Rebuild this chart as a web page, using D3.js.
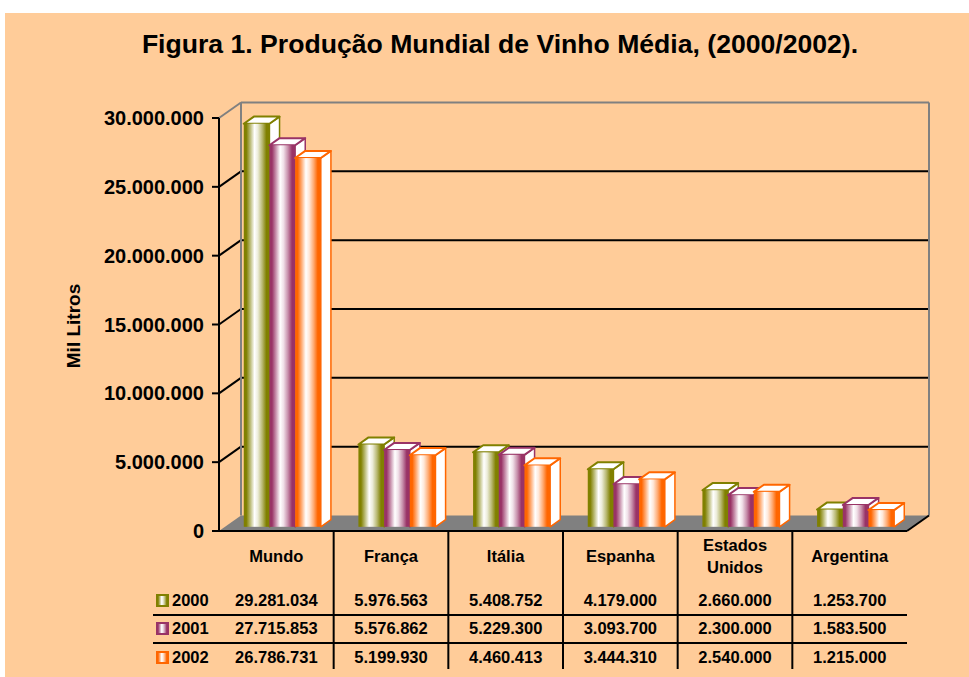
<!DOCTYPE html>
<html>
<head>
<meta charset="utf-8">
<script src="https://cdn.jsdelivr.net/npm/d3@7"></script>
<style>
  html, body { margin: 0; padding: 0; background: #ffffff; }
  svg { display: block; }
  text { font-family: "Liberation Sans", Arial, sans-serif; font-weight: bold; fill: #000; }
</style>
</head>
<body>
<svg id="chart" width="969" height="677"></svg>
<script>
// ---------------- data ----------------
const title = "Figura 1. Produção Mundial de Vinho Média, (2000/2002).";
const yAxisTitle = "Mil Litros";
const categories = ["Mundo", "França", "Itália", "Espanha", "Estados Unidos", "Argentina"];
const categoryLines = [["Mundo"], ["França"], ["Itália"], ["Espanha"], ["Estados", "Unidos"], ["Argentina"]];
const years = ["2000", "2001", "2002"];
const values2000 = [29281034, 5976563, 5408752, 4179000, 2660000, 1253700];
const values2001 = [27715853, 5576862, 5229300, 3093700, 2300000, 1583500];
const values2002 = [26786731, 5199930, 4460413, 3444310, 2540000, 1215000];
const seriesValues = [values2000, values2001, values2002];
const seriesColors = ["#808000", "#993366", "#FF6600"];
const yTicks = [0, 5000000, 10000000, 15000000, 20000000, 25000000, 30000000];

// ---------------- helpers ----------------
const fmt = v => d3.format(",")(v).replace(/,/g, ".");

const svg = d3.select("#chart");
svg.append("rect").attr("x", 5).attr("y", 13).attr("width", 964).attr("height", 664).attr("fill", "#FFCC99");

// title
svg.append("text").attr("x", 500).attr("y", 53).attr("text-anchor", "middle")
  .style("font-size", "26.6px").text(title);

// scales
const plotLeft = 219, plotRight = 907;
const y = d3.scaleLinear().domain([0, 30000000]).range([531, 118]);
const x = d3.scaleBand().domain(categories).range([plotLeft, plotRight]);
const DX = 22, DY = -15.5;            // full depth offset
const f1 = 0.27, f2 = 0.73;           // bar depth fractions
const groupW = x.bandwidth() * 0.672;
const xs = d3.scaleBand().domain(years).range([0, groupW]);

// gradients
const defs = svg.append("defs");
seriesColors.forEach((c, i) => {
  const g = defs.append("linearGradient").attr("id", "g" + i).attr("x1", "0").attr("x2", "1").attr("y1", "0").attr("y2", "0");
  const mix = t => d3.interpolateRgb(c, "#ffffff")(t);
  [[0, c], [0.1, c], [0.25, mix(0.45)], [0.42, "#ffffff"], [0.55, mix(0.85)], [0.72, mix(0.45)], [0.88, c], [1, c]]
    .forEach(([o, col]) => g.append("stop").attr("offset", o).attr("stop-color", col));
});

// back wall gridlines & side wall lines
const wall = svg.append("g");
yTicks.forEach(t => {
  if (t === 0) return;
  const yf = y(t), yb = y(t) + DY;
  const col = t === 30000000 ? "#808080" : "#000";
  wall.append("line").attr("x1", plotLeft + DX).attr("x2", plotRight + DX).attr("y1", yb).attr("y2", yb)
    .attr("stroke", col).attr("stroke-width", 2);
  wall.append("line").attr("x1", plotLeft).attr("y1", yf).attr("x2", plotLeft + DX).attr("y2", yb)
    .attr("stroke", col).attr("stroke-width", 2);
});
// back wall edges
wall.append("line").attr("x1", plotLeft + DX).attr("x2", plotLeft + DX).attr("y1", y(30000000) + DY).attr("y2", y(0) + DY)
  .attr("stroke", "#808080").attr("stroke-width", 2);
wall.append("line").attr("x1", plotRight + DX).attr("x2", plotRight + DX).attr("y1", y(30000000) + DY).attr("y2", y(0) + DY)
  .attr("stroke", "#808080").attr("stroke-width", 2);

// floor
svg.append("polygon")
  .attr("points", [[plotLeft, y(0)], [plotRight, y(0)], [plotRight + DX, y(0) + DY], [plotLeft + DX, y(0) + DY]].map(p => p.join(",")).join(" "))
  .attr("fill", "#808080");
svg.append("line").attr("x1", plotRight).attr("y1", y(0)).attr("x2", plotRight + DX).attr("y2", y(0) + DY)
  .attr("stroke", "#000").attr("stroke-width", 2);

// bars
const bars = svg.append("g");
categories.forEach((cat, ci) => {
  years.forEach((yr, si) => {
    const v = seriesValues[si][ci];
    const c = seriesColors[si];
    const x0 = x(cat) + (x.bandwidth() - groupW) / 2 + xs(yr) + DX * f1;
    const x1 = x0 + xs.bandwidth();
    const yT = y(v) + DY * f1, yB = y(0) + DY * f1;
    const bdx = DX * (f2 - f1), bdy = DY * (f2 - f1);
    const pts = a => a.map(p => p.join(",")).join(" ");
    bars.append("polygon").attr("points", pts([[x1, yT], [x1 + bdx, yT + bdy], [x1 + bdx, yB + bdy], [x1, yB]]))
      .attr("fill", "#ffffff").attr("stroke", c).attr("stroke-width", 1.5).attr("stroke-linejoin", "round");
    bars.append("polygon").attr("points", pts([[x0, yT], [x1, yT], [x1 + bdx, yT + bdy], [x0 + bdx, yT + bdy]]))
      .attr("fill", "#ffffff").attr("stroke", c).attr("stroke-width", 2).attr("stroke-linejoin", "round");
    bars.append("rect").attr("x", x0).attr("y", yT).attr("width", x1 - x0).attr("height", yB - yT)
      .attr("fill", "url(#g" + si + ")");
  });
});

// y axis
const ax = svg.append("g");
ax.append("line").attr("x1", plotLeft).attr("x2", plotLeft).attr("y1", y(30000000)).attr("y2", y(0) + 1)
  .attr("stroke", "#000").attr("stroke-width", 2);
yTicks.forEach(t => {
  ax.append("line").attr("x1", plotLeft - 7).attr("x2", plotLeft).attr("y1", y(t)).attr("y2", y(t))
    .attr("stroke", "#000").attr("stroke-width", 2);
  ax.append("text").attr("x", 204).attr("y", y(t)).attr("dy", "0.35em").attr("text-anchor", "end")
    .style("font-size", "20px").text(fmt(t));
});
ax.append("text").attr("transform", "translate(80,326) rotate(-90)").attr("text-anchor", "middle")
  .style("font-size", "19px").text(yAxisTitle);

// category axis / data table
const tbl = svg.append("g");
tbl.append("line").attr("x1", plotLeft).attr("x2", plotRight).attr("y1", y(0)).attr("y2", y(0))
  .attr("stroke", "#000").attr("stroke-width", 2);
categories.forEach((cat, ci) => {
  if (ci > 0) tbl.append("line").attr("x1", x(cat)).attr("x2", x(cat)).attr("y1", y(0)).attr("y2", 669)
    .attr("stroke", "#000").attr("stroke-width", 2);
  const lines = categoryLines[ci];
  lines.forEach((ln, li) => {
    tbl.append("text").attr("x", x(cat) + x.bandwidth() / 2).attr("y", 556 + (li - (lines.length - 1) / 2) * 22)
      .attr("dy", "0.35em").attr("text-anchor", "middle").style("font-size", "16.5px").text(ln);
  });
});
const rowY = [600, 628, 657];
[615, 643].forEach(yy => tbl.append("line").attr("x1", 153).attr("x2", plotRight).attr("y1", yy).attr("y2", yy)
  .attr("stroke", "#000").attr("stroke-width", 2));
years.forEach((yr, si) => {
  tbl.append("rect").attr("x", 157).attr("y", rowY[si] - 5).attr("width", 11).attr("height", 11)
    .attr("fill", "url(#g" + si + ")").attr("stroke", seriesColors[si]).attr("stroke-width", 2);
  tbl.append("text").attr("x", 172).attr("y", rowY[si]).attr("dy", "0.35em").style("font-size", "16.5px").text(yr);
  categories.forEach((cat, ci) => {
    tbl.append("text").attr("x", x(cat) + x.bandwidth() / 2).attr("y", rowY[si]).attr("dy", "0.35em")
      .attr("text-anchor", "middle").style("font-size", "16.5px").text(fmt(seriesValues[si][ci]));
  });
});
</script>
</body>
</html>
